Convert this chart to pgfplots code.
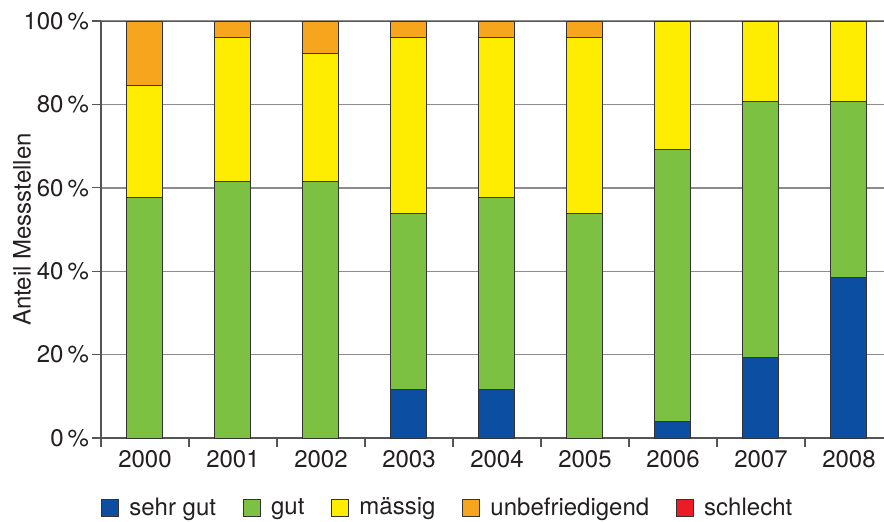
\documentclass[border=0pt]{standalone}
\usepackage{pgfplots}
\pgfplotsset{compat=1.18}
\usepackage{fontspec}
\setmainfont{TeX Gyre Heros}

\definecolor{cSehrGut}{HTML}{0B4EA2}
\definecolor{cGut}{HTML}{7DC143}
\definecolor{cMaessig}{HTML}{FFED00}
\definecolor{cUnbefr}{HTML}{F7A51C}
\definecolor{cSchlecht}{HTML}{ED1C24}
\definecolor{barline}{HTML}{333333}
\definecolor{axisgray}{HTML}{555555}
\definecolor{gridgray}{HTML}{8C8C8C}
\definecolor{textcol}{HTML}{231F20}

\newcommand{\chartfont}{\fontsize{12}{14}\selectfont}

\begin{document}
\begin{tikzpicture}
\begin{axis}[
  name=ax,
  scale only axis,
  width=391.5pt, height=208.5pt,
  xmin=-0.5, xmax=8.398,
  ymin=0, ymax=100,
  ybar stacked, bar width=18pt,
  axis x line*=bottom, axis y line*=left,
  axis line style={draw=axisgray, line width=0.6pt},
  tick align=outside,
  major tick length=4.5pt,
  tick style={draw=axisgray, line width=0.6pt},
  ytick={0,20,...,100},
  yticklabels={0\,\%,20\,\%,40\,\%,60\,\%,80\,\%,100\,\%},
  ymajorgrids,
  grid style={draw=gridgray, line width=0.7pt},
  xtick={-0.5,0.5,...,7.5},
  xticklabels={},
  extra x ticks={0,1,2,3,4,5,6,7,8},
  extra x tick labels={2000,2001,2002,2003,2004,2005,2006,2007,2008},
  extra x tick style={major tick length=0pt, xticklabel style={yshift=-2.5pt}},
  tick label style={font=\chartfont, text=textcol},
  yticklabel style={xshift=2pt},
  ylabel={Anteil Messstellen},
  every axis y label/.style={at={(axis description cs:-0.1009,0.5)}, rotate=90, anchor=center, font=\chartfont, text=textcol},
  legend columns=5,
  legend image code/.code={\draw[#1, draw=barline, line width=0.5pt] (0pt,-4.25pt) rectangle (8.5pt,4.25pt);},
  legend style={draw=none, fill=none, at={(0,0)}, anchor=west, yshift=-35pt,
    inner sep=0pt, font=\chartfont, text=textcol,
    /tikz/every odd column/.append style={column sep=3pt},
    /tikz/every even column/.append style={column sep=11.5pt}},
]
% shares per year in percent of all stations
\addplot[fill=cSehrGut, draw=barline, line width=0.5pt] coordinates
  {(0,0) (1,0) (2,0) (3,11.54) (4,11.54) (5,0) (6,3.85) (7,19.23) (8,38.46)};
\addplot[fill=cGut, draw=barline, line width=0.5pt] coordinates
  {(0,57.69) (1,61.54) (2,61.54) (3,42.31) (4,46.15) (5,53.85) (6,65.38) (7,61.54) (8,42.31)};
\addplot[fill=cMaessig, draw=barline, line width=0.5pt] coordinates
  {(0,26.92) (1,34.62) (2,30.77) (3,42.31) (4,38.46) (5,42.31) (6,30.77) (7,19.23) (8,19.23)};
\addplot[fill=cUnbefr, draw=barline, line width=0.5pt] coordinates
  {(0,15.39) (1,3.84) (2,7.69) (3,3.84) (4,3.85) (5,3.84) (6,0) (7,0) (8,0)};
\addlegendentry{sehr gut}
\addlegendentry{gut}
\addlegendentry{mässig}
\addlegendentry{unbefriedigend}
\addlegendimage{fill=cSchlecht}
\addlegendentry{schlecht}
% closing line along the 100 % level
\draw[axisgray, line width=0.6pt] (rel axis cs:0,1) -- (rel axis cs:1,1);
\end{axis}
\pgfresetboundingbox
\path ([shift={(-50.5pt,-41.5pt)}]ax.south west) rectangle ([shift={(0pt,10.5pt)}]ax.north east);
\end{tikzpicture}
\end{document}
